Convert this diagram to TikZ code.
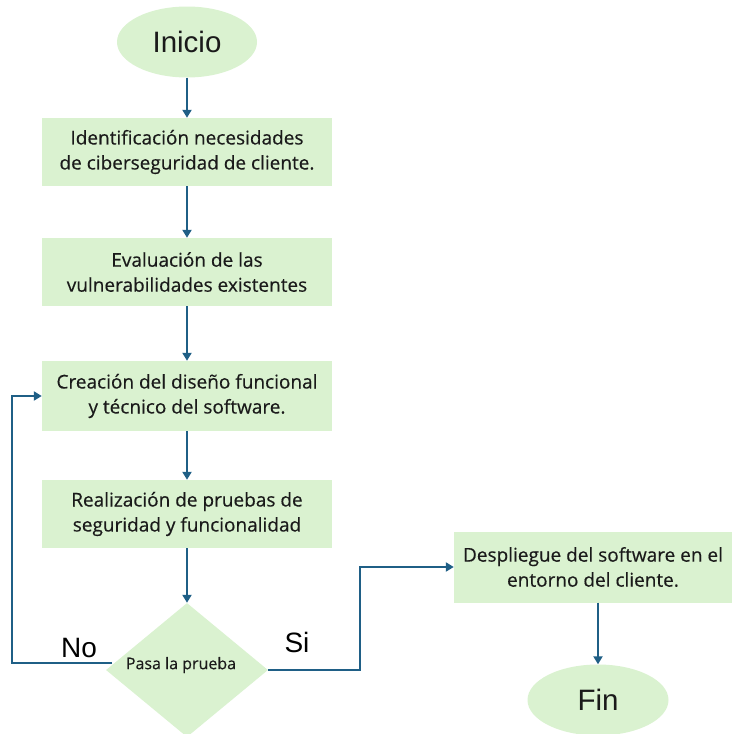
\documentclass[tikz,border=0pt]{standalone}
\usepackage{fontspec}
\setmainfont{Open Sans}
\newfontfamily\labelfont{Liberation Sans}
\usetikzlibrary{shapes.geometric,arrows.meta}
\definecolor{boxfill}{HTML}{DAF2D0}
\definecolor{flowline}{HTML}{1F5F86}
\definecolor{txt}{HTML}{1A1A1A}
\tikzset{
  terminal/.style={ellipse, fill=boxfill, draw=none, minimum width=140pt, minimum height=71pt,
                   inner sep=0pt, font=\labelfont\fontsize{29.5}{31}\selectfont, text=txt},
  process/.style={rectangle, fill=boxfill, draw=none, minimum width=290pt, minimum height=68pt,
                  inner sep=0pt, align=center,
                  font=\addfontfeature{FakeBold=0.35}\fontsize{19}{25}\selectfont, text=txt},
  decision/.style={diamond, fill=boxfill, draw=none, minimum width=162pt, minimum height=134pt,
                   aspect=1.21, inner sep=0pt},
  flow/.style={draw=flowline, line width=2.8pt, -{Triangle[length=8pt,width=9pt]}},
  branch/.style={font=\labelfont\fontsize{28}{30}\selectfont, text=black, inner sep=0pt}
}
\begin{document}
\begin{tikzpicture}[x=1pt,y=-1pt]
\useasboundingbox (0,0) rectangle (732,734);

% process chain
\node[terminal] (inicio) at (187,42) {Inicio};
\node[process] (ident) at (187,152) {Identificación necesidades\\de ciberseguridad de cliente.};
\node[process] (eval) at (187,272) {Evaluación de las\\vulnerabilidades existentes};
\node[process, minimum height=70pt] (diseno) at (187,396) {Creación del diseño funcional\\y técnico del software.};
\node[process] (pruebas) at (187,514) {Realización de pruebas de\\seguridad y funcionalidad};
\node[decision] (dec) at (187,670) {};
\node[font=\addfontfeature{FakeBold=0.35}\fontsize{16}{18}\selectfont, text=txt] (declabel) at (181,665) {Pasa la prueba};
\node[process, minimum width=278pt, minimum height=71pt] (despl) at (593,567) {Despliegue del software en el\\entorno del cliente.};
\node[terminal, minimum width=141pt] (fin) at (598,700) {Fin};

% branch labels
\node[branch] (nolabel) at (79,648) {No};
\node[branch] (silabel) at (297,642) {Si};

% connectors
\draw[flow] (inicio.south) -- (ident.north);
\draw[flow] (ident.south) -- (eval.north);
\draw[flow] (eval.south) -- (diseno.north);
\draw[flow] (diseno.south) -- (pruebas.north);
\draw[flow] (pruebas.south) -- (dec.north);

\coordinate (nostart) at (112,663);
\coordinate (nocorner) at (12,663);
\draw[flow] (nostart) -- (nocorner) |- (diseno.west);

\coordinate (sicorner) at (360,670);
\draw[flow] (dec.east) -- (sicorner) |- (despl.west);

\draw[flow] (fin.north |- despl.south) -- (fin.north);
\end{tikzpicture}
\end{document}
